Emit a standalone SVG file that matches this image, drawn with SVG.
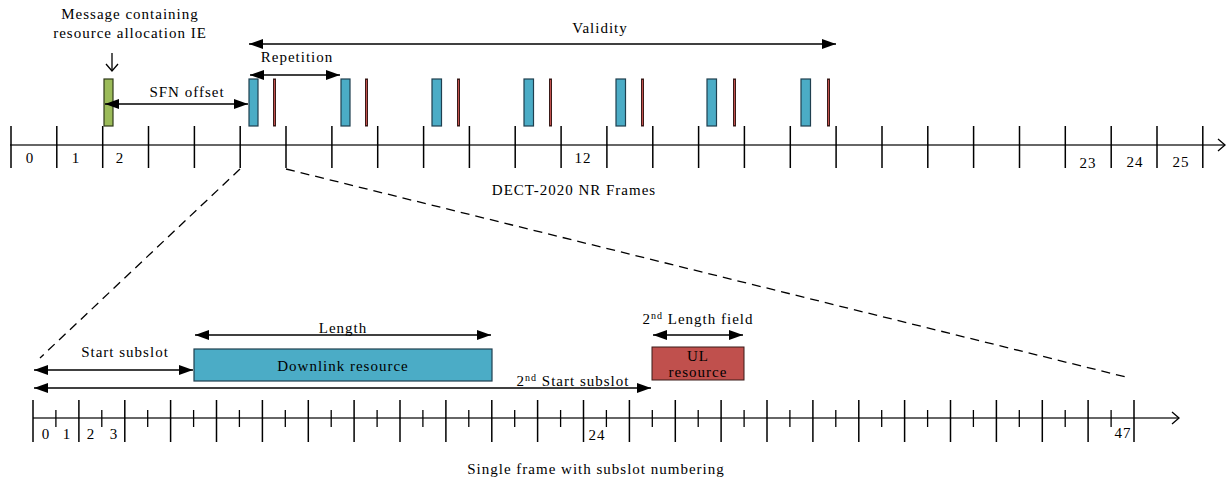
<svg xmlns="http://www.w3.org/2000/svg" width="1227" height="479" viewBox="0 0 1227 479">
<defs>
<style>
text{font-family:"Liberation Serif","DejaVu Serif",serif;font-size:15px;fill:#000;letter-spacing:1px;text-anchor:middle}
.ax{stroke:#333;stroke-width:1.3;fill:none}
.tk{stroke:#000;stroke-width:1.5}
.tks{stroke:#000;stroke-width:1.3}
.dl{stroke:#000;stroke-width:1.3;stroke-dasharray:9,6;fill:none}
.ar{stroke:#000;stroke-width:1.3;fill:none;marker-start:url(#ah);marker-end:url(#ah)}
.blue{fill:#4bacc6;stroke:#1f3f4f;stroke-width:1.2}
.red{fill:#c0504d;stroke:#3a1a18;stroke-width:1}
.green{fill:#9bbb59;stroke:#2f3a1a;stroke-width:1.2}
</style>
<marker id="ah" markerUnits="userSpaceOnUse" markerWidth="15" markerHeight="10" refX="14" refY="5" orient="auto-start-reverse"><path d="M0,0 L14,5 L0,10 z" fill="#000"/></marker>
<marker id="open" markerUnits="userSpaceOnUse" markerWidth="10" markerHeight="14" refX="8" refY="7" orient="auto"><path d="M1,1 L8,7 L1,13" fill="none" stroke="#000" stroke-width="1.3"/></marker>
</defs>

<g id="top-axis">
<line class="ax" x1="10" y1="145" x2="1225" y2="145" marker-end="url(#open)"/>
<g class="tk">
<line x1="11" y1="126" x2="11" y2="168"/><line x1="56.8" y1="126" x2="56.8" y2="168"/><line x1="102.7" y1="126" x2="102.7" y2="168"/><line x1="148.5" y1="126" x2="148.5" y2="168"/><line x1="194.4" y1="126" x2="194.4" y2="168"/><line x1="240.2" y1="126" x2="240.2" y2="168"/><line x1="286" y1="126" x2="286" y2="168"/><line x1="331.9" y1="126" x2="331.9" y2="168"/><line x1="377.7" y1="126" x2="377.7" y2="168"/><line x1="423.6" y1="126" x2="423.6" y2="168"/><line x1="469.4" y1="126" x2="469.4" y2="168"/><line x1="515.2" y1="126" x2="515.2" y2="168"/><line x1="561.1" y1="126" x2="561.1" y2="168"/><line x1="606.9" y1="126" x2="606.9" y2="168"/><line x1="652.8" y1="126" x2="652.8" y2="168"/><line x1="698.6" y1="126" x2="698.6" y2="168"/><line x1="744.4" y1="126" x2="744.4" y2="168"/><line x1="790.3" y1="126" x2="790.3" y2="168"/><line x1="836.1" y1="126" x2="836.1" y2="168"/><line x1="882" y1="126" x2="882" y2="168"/><line x1="927.8" y1="126" x2="927.8" y2="168"/><line x1="973.6" y1="126" x2="973.6" y2="168"/><line x1="1019.5" y1="126" x2="1019.5" y2="168"/><line x1="1065.3" y1="126" x2="1065.3" y2="168"/><line x1="1111.2" y1="126" x2="1111.2" y2="168"/><line x1="1157" y1="126" x2="1157" y2="168"/><line x1="1202.8" y1="126" x2="1202.8" y2="168"/>
</g>
<text x="30" y="163">0</text><text x="76" y="163">1</text><text x="120" y="163">2</text><text x="583" y="163">12</text><text x="1088" y="168">23</text><text x="1135" y="167">24</text><text x="1181" y="167">25</text>
<text x="574" y="195">DECT-2020 NR Frames</text>
</g>

<g id="msg-block">
<rect class="green" x="104" y="79" width="9" height="47"/>
<text x="130" y="19">Message containing</text>
<text x="130" y="38">resource allocation IE</text>
<line x1="112" y1="53" x2="112" y2="71" stroke="#000" stroke-width="1.3" marker-end="url(#open)" transform="rotate(0)"/>
</g>

<g id="frames">
<rect class="blue" x="249" y="79" width="9" height="47"/><rect class="red" x="273.5" y="79" width="2" height="47"/>
<rect class="blue" x="341" y="79" width="9" height="47"/><rect class="red" x="365.5" y="79" width="2" height="47"/>
<rect class="blue" x="432" y="79" width="9.5" height="47"/><rect class="red" x="457.5" y="79" width="2" height="47"/>
<rect class="blue" x="524" y="79" width="9.5" height="47"/><rect class="red" x="549.5" y="79" width="2" height="47"/>
<rect class="blue" x="616" y="79" width="9.5" height="47"/><rect class="red" x="641.5" y="79" width="2" height="47"/>
<rect class="blue" x="707" y="79" width="9.5" height="47"/><rect class="red" x="733.5" y="79" width="2" height="47"/>
<rect class="blue" x="801" y="79" width="9.5" height="47"/><rect class="red" x="827.5" y="79" width="2" height="47"/>
</g>

<g id="downlink">
<rect class="blue" x="194" y="349" width="298" height="32"/>
<text x="343" y="371">Downlink resource</text>
</g>

<g id="ul">
<rect class="red" x="652" y="347" width="92" height="33"/>
<text x="698" y="361" fill="#222">UL</text>
<text x="698" y="377" fill="#222">resource</text>
</g>

<g id="bottom-axis">
<line class="ax" x1="33" y1="418" x2="1179" y2="418" marker-end="url(#open)"/>
<g class="tk">
<line x1="33" y1="400" x2="33" y2="442"/><line x1="78.9" y1="400" x2="78.9" y2="442"/><line x1="124.8" y1="400" x2="124.8" y2="442"/><line x1="170.6" y1="400" x2="170.6" y2="442"/><line x1="216.5" y1="400" x2="216.5" y2="442"/><line x1="262.4" y1="400" x2="262.4" y2="442"/><line x1="308.3" y1="400" x2="308.3" y2="442"/><line x1="354.1" y1="400" x2="354.1" y2="442"/><line x1="400" y1="400" x2="400" y2="442"/><line x1="445.9" y1="400" x2="445.9" y2="442"/><line x1="491.8" y1="400" x2="491.8" y2="442"/><line x1="537.6" y1="400" x2="537.6" y2="442"/><line x1="583.5" y1="400" x2="583.5" y2="442"/><line x1="629.4" y1="400" x2="629.4" y2="442"/><line x1="675.3" y1="400" x2="675.3" y2="442"/><line x1="721.1" y1="400" x2="721.1" y2="442"/><line x1="767" y1="400" x2="767" y2="442"/><line x1="812.9" y1="400" x2="812.9" y2="442"/><line x1="858.8" y1="400" x2="858.8" y2="442"/><line x1="904.6" y1="400" x2="904.6" y2="442"/><line x1="950.5" y1="400" x2="950.5" y2="442"/><line x1="996.4" y1="400" x2="996.4" y2="442"/><line x1="1042.3" y1="400" x2="1042.3" y2="442"/><line x1="1088.1" y1="400" x2="1088.1" y2="442"/><line x1="1134" y1="400" x2="1134" y2="442"/>
</g>
<g class="tks">
<line x1="55.9" y1="410" x2="55.9" y2="427"/><line x1="101.8" y1="410" x2="101.8" y2="427"/><line x1="147.7" y1="410" x2="147.7" y2="427"/><line x1="193.6" y1="410" x2="193.6" y2="427"/><line x1="239.4" y1="410" x2="239.4" y2="427"/><line x1="285.3" y1="410" x2="285.3" y2="427"/><line x1="331.2" y1="410" x2="331.2" y2="427"/><line x1="377.1" y1="410" x2="377.1" y2="427"/><line x1="422.9" y1="410" x2="422.9" y2="427"/><line x1="468.8" y1="410" x2="468.8" y2="427"/><line x1="514.7" y1="410" x2="514.7" y2="427"/><line x1="560.6" y1="410" x2="560.6" y2="427"/><line x1="606.4" y1="410" x2="606.4" y2="427"/><line x1="652.3" y1="410" x2="652.3" y2="427"/><line x1="698.2" y1="410" x2="698.2" y2="427"/><line x1="744.1" y1="410" x2="744.1" y2="427"/><line x1="789.9" y1="410" x2="789.9" y2="427"/><line x1="835.8" y1="410" x2="835.8" y2="427"/><line x1="881.7" y1="410" x2="881.7" y2="427"/><line x1="927.6" y1="410" x2="927.6" y2="427"/><line x1="973.4" y1="410" x2="973.4" y2="427"/><line x1="1019.3" y1="410" x2="1019.3" y2="427"/><line x1="1065.2" y1="410" x2="1065.2" y2="427"/><line x1="1111.1" y1="410" x2="1111.1" y2="427"/>
</g>
<text x="46" y="439">0</text><text x="67" y="439">1</text><text x="91" y="439">2</text><text x="114" y="439">3</text><text x="597" y="440">24</text><text x="1123" y="438">47</text>
<text x="596" y="474">Single frame with subslot numbering</text>
</g>

<g id="connectors">
<line class="dl" x1="240" y1="169" x2="40" y2="358"/>
<line class="dl" x1="286" y1="169" x2="1130" y2="378"/>
<line class="ar" x1="249" y1="44" x2="836" y2="44"/>
<text x="600" y="33">Validity</text>
<line class="ar" x1="250" y1="75" x2="340" y2="75"/>
<text x="297" y="62">Repetition</text>
<line class="ar" x1="105" y1="104" x2="248" y2="104"/>
<text x="187" y="97">SFN offset</text>
<line class="ar" x1="195" y1="335" x2="491" y2="335"/>
<text x="343" y="333">Length</text>
<line class="ar" x1="34" y1="370" x2="193" y2="370"/>
<text x="125" y="357">Start subslot</text>
<line class="ar" x1="34" y1="388" x2="651" y2="388"/>
<text x="573" y="386">2<tspan dy="-5" font-size="10">nd</tspan><tspan dy="5"> Start subslot</tspan></text>
<line class="ar" x1="653" y1="335" x2="743" y2="335"/>
<text x="698" y="324">2<tspan dy="-5" font-size="10">nd</tspan><tspan dy="5"> Length field</tspan></text>
</g>
</svg>
